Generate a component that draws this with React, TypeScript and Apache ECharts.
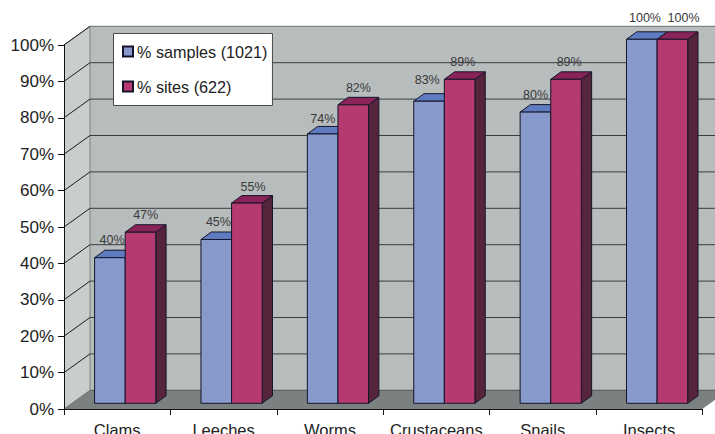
import React, { useEffect, useRef } from "react";
import * as echarts from "echarts";

const categories = ["Clams", "Leeches", "Worms", "Crustaceans", "Snails", "Insects"];
const samples = [40, 45, 74, 83, 80, 100];
const sites = [47, 55, 82, 89, 89, 100];
const sampleLabels = ["40%", "45%", "74%", "83%", "80%", "100%"];
const siteLabels = ["47%", "55%", "82%", "89%", "89%", "100%"];
const gridTicks = [10, 20, 30, 40, 50, 60, 70, 80, 90, 100];

const WALL_DX = 26;
const WALL_DY = 18.7;
const FRONT_DX = 8;
const FRONT_DY = 5.7;
const BAR_W = 30.6;
const DEPTH_DX = 10.3;
const DEPTH_DY = 7.5;
const sampleNudge = [[-3, 0], [-3, 0], [-5, 3], [-7, -4], [-5, 0], [-2, -4]];
const siteNudge = [[0, 0], [1, 1], [0, 1], [-2, 0], [-2, 0], [6, -4]];

const poly = (points: number[][], fill: string, stroke?: string, lw = 1) => ({
  type: "polygon",
  shape: { points },
  style: { fill, stroke: stroke ?? "none", lineWidth: lw },
  silent: true,
});
const line = (x1: number, y1: number, x2: number, y2: number, stroke: string, lw = 1) => ({
  type: "line",
  shape: { x1, y1, x2, y2 },
  style: { stroke, lineWidth: lw },
  silent: true,
});

const renderWalls = (_: any, api: any) => {
  const [xL, y0] = [api.coord([0, 0])[0] - 53.2, api.coord([0, 0])[1]];
  const xR = api.coord([categories.length - 1, 0])[0] + 53.2;
  const yT = api.coord([0, 100])[1];
  const backL = xL + WALL_DX;
  const backR = xR + WALL_DX;
  const children: any[] = [
    poly([[backL, yT - WALL_DY], [backR, yT - WALL_DY], [backR, y0 - WALL_DY], [backL, y0 - WALL_DY]], "#b7bcbd"),
    poly([[xL, yT], [backL, yT - WALL_DY], [backL, y0 - WALL_DY], [xL, y0]], "#c9cecd"),
    poly([[xL, y0], [backL, y0 - WALL_DY], [backR, y0 - WALL_DY], [xR, y0]], "#7b8180"),
    line(xL, yT, backL, yT - WALL_DY, "#7d8282"),
    line(backL, yT - WALL_DY, backR, yT - WALL_DY, "#6f7474"),
    line(backL, yT - WALL_DY, backL, y0 - WALL_DY, "#7d8282"),
    line(xL, y0, backL, y0 - WALL_DY, "#6f7474"),
    line(backL, y0 - WALL_DY, backR, y0 - WALL_DY, "#4d5252"),
  ];
  gridTicks.forEach((t) => {
    const y = api.coord([0, t])[1];
    if (t < 100) children.push(line(backL, y - WALL_DY, backR, y - WALL_DY, "#3a3d3e"));
    children.push(line(xL, y, backL, y - WALL_DY, "#1c1c1c"));
  });
  return { type: "group", children };
};

const makeBar = (left: boolean, front: string, top: string, side: string, labels: string[], nudge: number[][]) =>
  (params: any, api: any) => {
    const i = api.value(0);
    const v = api.value(1);
    const c = api.coord([i, v]);
    const base = api.coord([i, 0]);
    const x0 = c[0] + FRONT_DX - (left ? BAR_W : 0);
    const x1 = x0 + BAR_W;
    const yB = base[1] - FRONT_DY;
    const yT = c[1] - FRONT_DY;
    const edge = "#15152a";
    const n = nudge[params.dataIndex];
    return {
      type: "group",
      children: [
        poly([[x1, yT], [x1 + DEPTH_DX, yT - DEPTH_DY], [x1 + DEPTH_DX, yB - DEPTH_DY], [x1, yB]], side, edge),
        poly([[x0, yT], [x0 + DEPTH_DX, yT - DEPTH_DY], [x1 + DEPTH_DX, yT - DEPTH_DY], [x1, yT]], top, edge),
        poly([[x0, yT], [x1, yT], [x1, yB], [x0, yB]], front, edge),
        {
          type: "text",
          silent: true,
          x: (x0 + x1) / 2 + DEPTH_DX / 2 + n[0],
          y: yT - DEPTH_DY - 10 + n[1],
          style: {
            text: labels[params.dataIndex],
            fill: "#3a3a3a",
            font: '12.5px "Liberation Sans"',
            align: "center",
            verticalAlign: "middle",
          },
        },
      ],
    };
  };

export default function App() {
  const ref = useRef<HTMLDivElement>(null);
  useEffect(() => {
    const chart = echarts.init(ref.current!, undefined, { renderer: "svg" });
    chart.setOption({
      animation: false,
      backgroundColor: "#ffffff",
      textStyle: { fontFamily: "Liberation Sans" },
      grid: { left: 64, right: 12.7, top: 45, bottom: 25, containLabel: false, outerBoundsMode: "none" },
      legend: {
        left: 113.5,
        top: 33.5,
        orient: "vertical",
        data: ["% samples (1021)", "% sites (622)"],
        backgroundColor: "#ffffff",
        borderColor: "#4a4a4a",
        borderWidth: 1,
        padding: [10, 5, 11, 8.5],
        itemWidth: 10,
        itemHeight: 10,
        itemGap: 19,
        selectedMode: false,
        icon: "rect",
        textStyle: { fontSize: 16.2, color: "#222", padding: [0, 0, 0, -1], lineHeight: 16 },
        z: 20,
      },
      xAxis: {
        type: "category",
        data: categories,
        axisLine: { lineStyle: { color: "#111", width: 1 } },
        axisTick: { show: true, alignWithLabel: false, length: 6, lineStyle: { color: "#111" } },
        axisLabel: { color: "#222", fontSize: 16.5, margin: 12, interval: 0 },
        splitLine: { show: false },
        z: 5,
      },
      yAxis: {
        type: "value",
        min: 0,
        max: 100,
        interval: 10,
        axisLine: { show: true, lineStyle: { color: "#111", width: 1 } },
        axisTick: { show: true, length: 6, lineStyle: { color: "#111" } },
        axisLabel: { color: "#222", fontSize: 17, margin: 10, formatter: "{value}%" },
        splitLine: { show: false },
        z: 5,
      },
      series: [
        {
          type: "custom",
          name: "walls",
          renderItem: renderWalls,
          data: [[0, 0]],
          encode: { x: 0, y: 1 },
          z: 1,
          silent: true,
        },
        {
          type: "custom",
          name: "% samples (1021)",
          renderItem: makeBar(true, "#8899cc", "#5f7cc0", "#3f4f80", sampleLabels, sampleNudge),
          data: samples.map((v, i) => [i, v]),
          encode: { x: 0, y: 1 },
          itemStyle: { color: "#8899cc", borderColor: "#15152a", borderWidth: 1 },
          z: 3,
        },
        {
          type: "custom",
          name: "% sites (622)",
          renderItem: makeBar(false, "#b53a70", "#8a2358", "#56253b", siteLabels, siteNudge),
          data: sites.map((v, i) => [i, v]),
          encode: { x: 0, y: 1 },
          itemStyle: { color: "#b53a70", borderColor: "#15152a", borderWidth: 1 },
          z: 4,
        },
      ],
    });
    return () => chart.dispose();
  }, []);
  return <div ref={ref} style={{ position: "absolute", left: 0, top: 0, width: 715, height: 434 }} />;
}
